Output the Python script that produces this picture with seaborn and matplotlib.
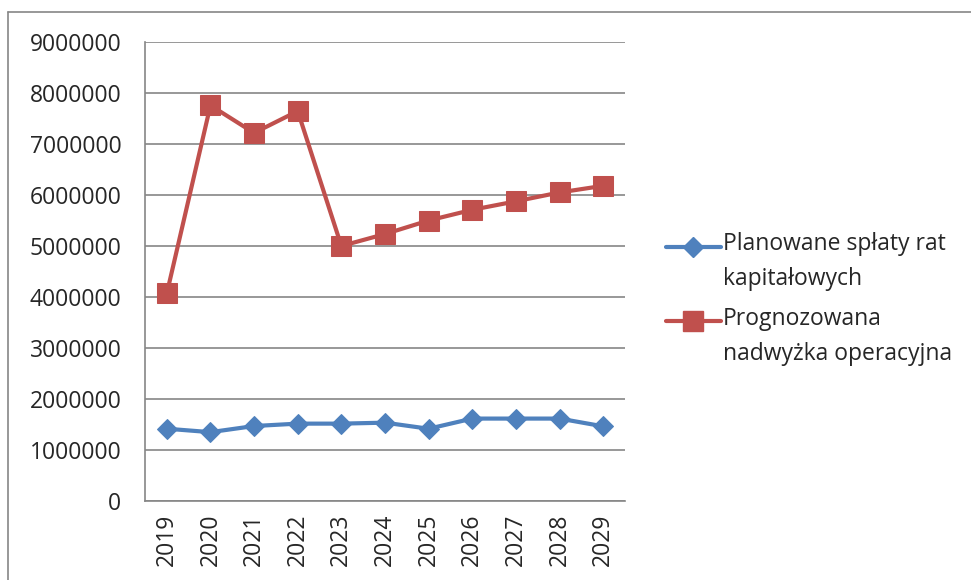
import numpy as np
import pandas as pd
import matplotlib
matplotlib.use("Agg")
import matplotlib.pyplot as plt
from matplotlib.lines import Line2D
from matplotlib.legend_handler import HandlerLine2D
import seaborn as sns

years = ["2019", "2020", "2021", "2022", "2023", "2024", "2025", "2026", "2027", "2028", "2029"]
splaty = [1417000, 1350000, 1470000, 1517000, 1517000, 1536000, 1417000, 1616000, 1616000, 1616000, 1464000]
nadwyzka = [4070000, 7757000, 7217000, 7645000, 5000000, 5235000, 5500000, 5710000, 5876000, 6050000, 6180000]
yticks = [0, 1000000, 2000000, 3000000, 4000000, 5000000, 6000000, 7000000, 8000000, 9000000]
label_splaty = "Planowane spłaty rat\nkapitałowych"
label_nadwyzka = "Prognozowana\nnadwyżka operacyjna"

sns.set_style("white")
plt.rcParams["font.family"] = ["Open Sans", "DejaVu Sans"]

BLUE = "#4F81BD"
RED = "#C0504D"
GRID = "#868686"


class TopLineHandler(HandlerLine2D):
    """Place the legend handle beside the first line of a two-line label."""
    def __init__(self, shift, **kw):
        super().__init__(**kw)
        self.shift = shift

    def create_artists(self, legend, orig_handle, xdescent, ydescent, width, height, fontsize, trans):
        return super().create_artists(legend, orig_handle, xdescent, ydescent - 2 * self.shift,
                                      width, height, fontsize, trans)


fig = plt.figure(figsize=(9.71, 5.8), dpi=100)
ax = fig.add_axes([145 / 971, 1 - 501 / 580, 480 / 971, 459 / 580])

pos = np.arange(len(years))
df = pd.DataFrame({"pos": pos, "splaty": splaty, "nadwyzka": nadwyzka})

sns.lineplot(data=df, x="pos", y="splaty", ax=ax, color=BLUE, lw=3, marker="D",
             markersize=10, markeredgecolor=BLUE, label=label_splaty, legend=False)
sns.lineplot(data=df, x="pos", y="nadwyzka", ax=ax, color=RED, lw=3, marker="s",
             markersize=14, markeredgecolor=RED, label=label_nadwyzka, legend=False)

ax.set_xlim(-0.5, len(years) - 0.5)
ax.set_ylim(0, 9000000)
ax.set_yticks(yticks)
ax.set_yticklabels([str(v) for v in yticks], fontsize=16.5)
ax.set_xticks(pos)
ax.set_xticklabels(years, rotation=90, fontsize=16.5)
ax.set_xticks(np.arange(-0.5, len(years)), minor=True)
ax.tick_params(axis="x", which="major", length=0, pad=9)
ax.tick_params(axis="x", which="minor", length=5, width=1.2, color=GRID, direction="out")
ax.tick_params(axis="y", which="major", length=5, width=1.2, color=GRID, direction="out", pad=12)
ax.set_xlabel("")
ax.set_ylabel("")
ax.yaxis.grid(True, color=GRID, lw=1.2)
ax.xaxis.grid(False)
ax.set_axisbelow(True)
for s in ["top", "right"]:
    ax.spines[s].set_visible(False)
for s in ["left", "bottom"]:
    ax.spines[s].set_color(GRID)
    ax.spines[s].set_linewidth(1.2)

handles = [
    Line2D([], [], color=BLUE, lw=3, marker="D", markersize=10, markeredgecolor=BLUE),
    Line2D([], [], color=RED, lw=3, marker="s", markersize=14, markeredgecolor=RED),
]
hm = {h: TopLineHandler(11.5) for h in handles}
leg = fig.legend(handles, [label_splaty, label_nadwyzka], loc="center left",
                 bbox_to_anchor=(645 / 971, 1 - 299 / 580), frameon=False, fontsize=16.5,
                 handlelength=2.4, handletextpad=0.1, labelspacing=0.7, handler_map=hm)
for t in leg.get_texts():
    t.set_linespacing(1.6)

fig.add_artist(Line2D([8 / 971, 1.0], [1 - 12 / 580, 1 - 12 / 580], transform=fig.transFigure,
                      color=GRID, lw=1.2))
fig.add_artist(Line2D([8 / 971, 8 / 971], [1 - 12 / 580, 0.0], transform=fig.transFigure,
                      color=GRID, lw=1.2))

fig.savefig("out.png", dpi=100)
